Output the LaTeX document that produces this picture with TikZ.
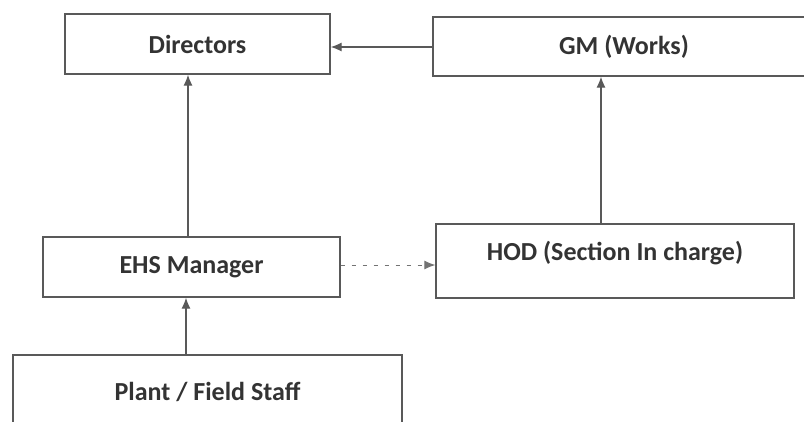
\documentclass[tikz,border=0pt]{standalone}
\usepackage{fontspec}
\setmainfont{Carlito}
\usepackage{tikz}
\usetikzlibrary{arrows.meta}

\begin{document}
\begin{tikzpicture}[x=1pt, y=-1pt, line width=1.3pt, draw=black!65,
  every node/.style={rectangle, draw=black!65, inner sep=0pt, text=black!80,
    font=\fontsize{26}{30}\selectfont\bfseries},
  link/.style={-{Latex[length=11pt,width=9pt]}, black!65}]
\useasboundingbox (0,0) rectangle (804,421);
\clip (0,0) rectangle (804,421);

\node[minimum width=265pt, minimum height=60pt] (dir) at (197.5,44) {Directors};
\node[minimum width=382pt, minimum height=59pt] (gm) at (624,46.5) {GM (Works)};
\node[minimum width=297pt, minimum height=60pt] (ehs) at (191.5,267) {EHS Manager};
\node[minimum width=358pt, text height=36pt, text depth=38pt] (hod) at (615,261) {HOD (Section In charge)};
\node[minimum width=389pt, minimum height=74pt] (plant) at (207.5,392) {Plant / Field Staff};

\draw[link] (gm.west |- 0,47) -- (dir.east |- 0,47);
\draw[link] (ehs.north -| 188,0) -- (dir.south -| 188,0);
\draw[link] (plant.north -| 186,0) -- (ehs.south -| 186,0);
\draw[link] (hod.north -| 601,0) -- (gm.south -| 601,0);
\draw[link, black!55, line width=1pt, dash pattern=on 4pt off 7pt] (ehs.east |- 0,265) -- (hod.west |- 0,265);

\end{tikzpicture}
\end{document}
